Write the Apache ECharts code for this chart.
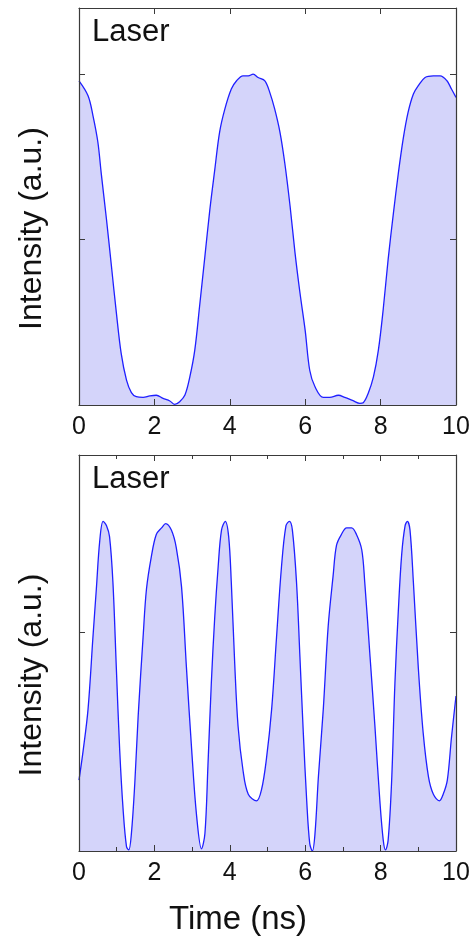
<!DOCTYPE html>
<html>
<head>
<meta charset="utf-8">
<script src="https://cdn.jsdelivr.net/npm/echarts@6/dist/echarts.min.js"></script>
<style>
  html, body { margin: 0; padding: 0; background: #ffffff; }
  #chart { width: 476px; height: 936px; }
</style>
</head>
<body>
<div id="chart"></div>
<script>
// Laser intensity traces (arbitrary units) versus time in nanoseconds.
const panelTitle = 'Laser';
const xAxisTitle = 'Time (ns)';
const yAxisTitle = 'Intensity (a.u.)';
const xTickLabels = ['0', '2', '4', '6', '8', '10'];

// Upper trace: slow square-like modulation
const timeTop = [
  0, 0.24, 0.37, 0.5, 0.59, 0.73, 0.86, 0.99, 1.12, 1.26, 1.39, 1.52, 1.7, 1.88, 2.05,
  2.23, 2.41, 2.54, 2.67, 2.81, 2.94, 3.07, 3.2, 3.34, 3.47, 3.6, 3.73, 3.87, 4.04,
  4.18, 4.35, 4.49, 4.62, 4.75, 4.93, 5.06, 5.19, 5.33, 5.46, 5.6, 5.73, 5.86, 6.0,
  6.12, 6.26, 6.48, 6.65, 6.88, 7.05, 7.27, 7.45, 7.54, 7.67, 7.81, 7.94, 8.07, 8.2,
  8.34, 8.47, 8.6, 8.73, 8.87, 9.0, 9.18, 9.4, 9.58, 9.76, 9.88, 10
];
const intensityTop = [
  1.96, 1.87, 1.75, 1.59, 1.40, 1.12, 0.84, 0.56, 0.31, 0.15, 0.075, 0.05, 0.046, 0.055, 0.059,
  0.04, 0.024, 0.004, 0.02, 0.06, 0.17, 0.33, 0.60, 0.90, 1.18, 1.42, 1.65, 1.79, 1.91,
  1.96, 1.99, 1.99, 2.0, 1.98, 1.96, 1.89, 1.79, 1.65, 1.46, 1.20, 0.92, 0.68, 0.45,
  0.21, 0.11, 0.046, 0.046, 0.059, 0.046, 0.026, 0.01, 0.014, 0.07, 0.17, 0.33, 0.58, 0.88,
  1.16, 1.40, 1.61, 1.77, 1.88, 1.93, 1.98, 1.99, 1.99, 1.96, 1.91, 1.86
];

// Lower trace: faster pulsing
const timeBottom = [
  0, 0.11, 0.24, 0.37, 0.46, 0.55, 0.64, 0.73, 0.81, 0.9, 0.99, 1.08, 1.17, 1.26, 1.32,
  1.39, 1.48, 1.57, 1.7, 1.79, 1.92, 2.05, 2.19, 2.3, 2.45, 2.58, 2.72, 2.85, 2.99,
  3.12, 3.25, 3.34, 3.42, 3.51, 3.6, 3.69, 3.78, 3.88, 3.97, 4.04, 4.13, 4.22, 4.35,
  4.49, 4.71, 4.84, 4.97, 5.11, 5.24, 5.37, 5.49, 5.58, 5.66, 5.77, 5.86, 5.95, 6.04,
  6.12, 6.19, 6.26, 6.35, 6.48, 6.61, 6.74, 6.83, 6.96, 7.1, 7.23, 7.36, 7.5, 7.58,
  7.72, 7.85, 7.98, 8.07, 8.13, 8.2, 8.29, 8.38, 8.47, 8.56, 8.65, 8.71, 8.78, 8.87,
  9.0, 9.13, 9.27, 9.4, 9.56, 9.66, 9.77, 9.88, 10
];
const intensityBottom = [
  0.325, 0.46, 0.65, 0.98, 1.20, 1.42, 1.51, 1.49, 1.44, 1.23, 0.84, 0.46, 0.19, 0.02, 0.005,
  0.08, 0.31, 0.62, 0.98, 1.20, 1.35, 1.45, 1.48, 1.50, 1.47, 1.39, 1.21, 0.84, 0.46,
  0.16, 0.01, 0.08, 0.39, 0.77, 1.07, 1.30, 1.47, 1.51, 1.44, 1.23, 0.86, 0.57, 0.37,
  0.26, 0.23, 0.28, 0.42, 0.65, 0.98, 1.30, 1.49, 1.51, 1.47, 1.23, 0.89, 0.54, 0.23,
  0.035, 0.0, 0.08, 0.34, 0.65, 1.03, 1.26, 1.40, 1.45, 1.48, 1.48, 1.45, 1.38, 1.23,
  0.89, 0.57, 0.23, 0.05, 0.005, 0.05, 0.31, 0.77, 1.10, 1.36, 1.49, 1.51, 1.47, 1.23,
  0.84, 0.54, 0.34, 0.26, 0.23, 0.26, 0.325, 0.52, 0.71
];

const FONT = '"Liberation Sans", Arial, Helvetica, sans-serif';
const FRAME = '#3a3a3a';
const LINE = '#1f1fff';
const FILL = '#d4d4fa';

const pairs = (xs, ys) => xs.map((x, i) => [x, ys[i]]);

function xAxisFor(gridIndex, opts) {
  return {
    type: 'value', gridIndex, min: 0, max: 10, interval: 2, z: 10,
    position: opts.top ? 'top' : 'bottom',
    axisLine: { show: true, onZero: false, lineStyle: { color: FRAME, width: 1.2 } },
    axisTick: { show: true, inside: true, length: 6, lineStyle: { color: FRAME, width: 1 } },
    minorTick: { show: !!opts.minor, splitNumber: 2, length: 4, lineStyle: { color: FRAME, width: 1 } },
    axisLabel: {
      show: !opts.top, margin: 10, color: '#111', fontSize: 25, fontFamily: FONT,
      formatter: v => xTickLabels[Math.round(v / 2)] ?? ''
    },
    splitLine: { show: false }
  };
}

function yAxisFor(gridIndex, max, opts) {
  return {
    type: 'value', gridIndex, min: 0, max, interval: 1, z: 10,
    position: opts.right ? 'right' : 'left',
    name: opts.right ? '' : yAxisTitle,
    nameLocation: 'middle', nameGap: 31,
    nameTextStyle: { fontSize: 32, fontFamily: FONT, color: '#111', padding: [0, 44, 0, 0] },
    axisLine: { show: true, onZero: false, lineStyle: { color: FRAME, width: 1.2 } },
    axisTick: { show: true, inside: true, length: 6, lineStyle: { color: FRAME, width: 1 } },
    axisLabel: { show: false },
    splitLine: { show: false }
  };
}

const chart = echarts.init(document.getElementById('chart'), null, { renderer: 'canvas' });

chart.setOption({
  backgroundColor: '#ffffff',
  animation: false,
  title: [
    { text: panelTitle, left: 87, top: 12, textStyle: { fontSize: 31, fontWeight: 'normal', fontFamily: FONT, color: '#111' } },
    { text: panelTitle, left: 87, top: 459, textStyle: { fontSize: 31, fontWeight: 'normal', fontFamily: FONT, color: '#111' } },
    { text: xAxisTitle, left: 'center', top: 898, textStyle: { fontSize: 33, fontWeight: 'normal', fontFamily: FONT, color: '#111' } }
  ],
  grid: [
    { left: 79, top: 8, width: 377, height: 397 },
    { left: 79, top: 455, width: 377, height: 396 }
  ],
  xAxis: [
    xAxisFor(0, {}),
    xAxisFor(0, { top: true }),
    xAxisFor(1, { minor: true }),
    xAxisFor(1, { top: true, minor: true })
  ],
  yAxis: [
    yAxisFor(0, 2.4, {}),
    yAxisFor(0, 2.4, { right: true }),
    yAxisFor(1, 1.814, {}),
    yAxisFor(1, 1.814, { right: true })
  ],
  series: [
    {
      type: 'line', xAxisIndex: 0, yAxisIndex: 0,
      data: pairs(timeTop, intensityTop),
      smooth: 0.35, symbol: 'none',
      lineStyle: { color: LINE, width: 1.3 },
      areaStyle: { color: FILL, opacity: 1 }
    },
    {
      type: 'line', xAxisIndex: 2, yAxisIndex: 2,
      data: pairs(timeBottom, intensityBottom),
      smooth: 0.35, symbol: 'none',
      lineStyle: { color: LINE, width: 1.3 },
      areaStyle: { color: FILL, opacity: 1 }
    }
  ]
});
</script>
</body>
</html>
